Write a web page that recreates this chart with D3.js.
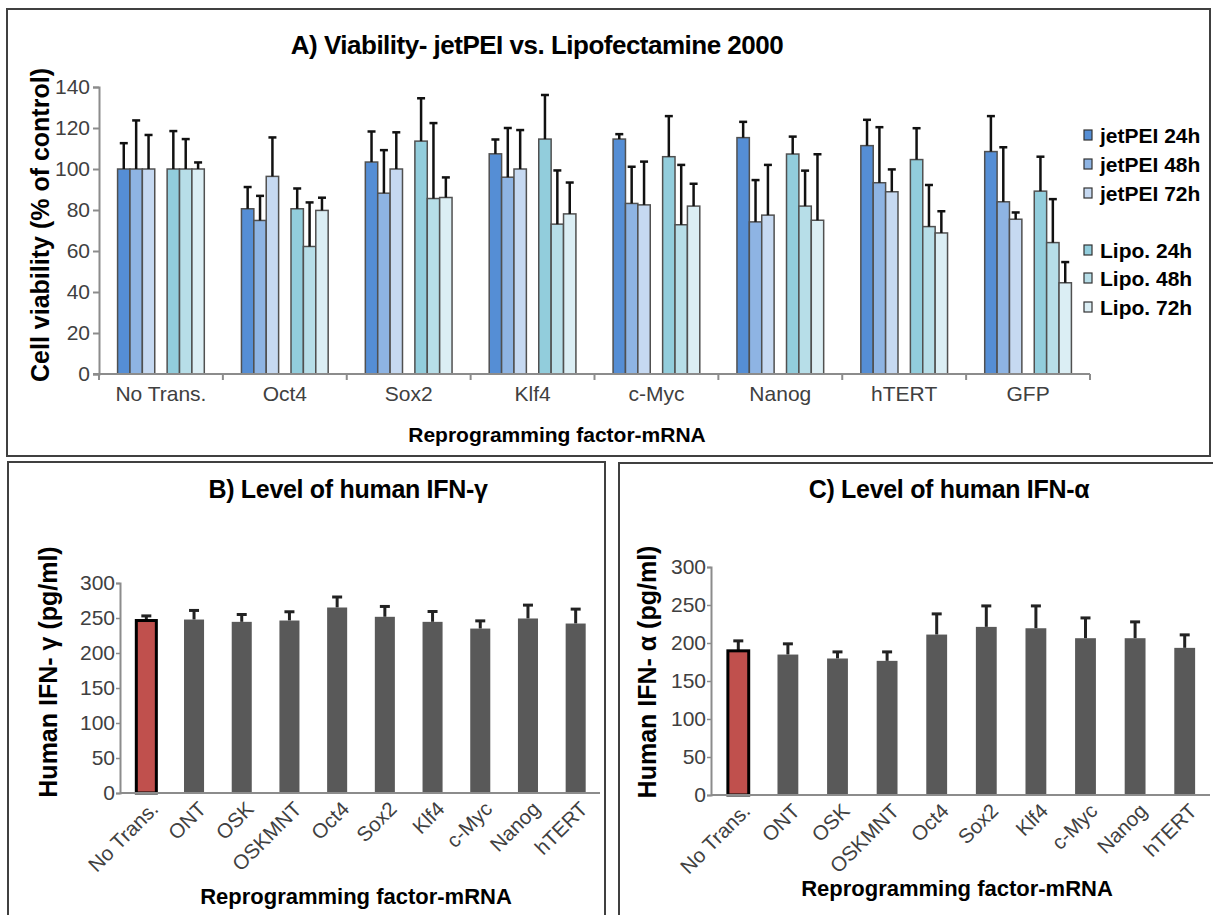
<!DOCTYPE html>
<html>
<head>
<meta charset="utf-8">
<script src="https://cdn.jsdelivr.net/npm/d3@7"></script>
<style>
  body { margin: 0; background: #fff; }
  text { font-family: "Liberation Sans", Arial, sans-serif; }
</style>
</head>
<body>
<script>
// ---- panel A data (cell viability, % of control) ----
var catsA = ["No Trans.", "Oct4", "Sox2", "Klf4", "c-Myc", "Nanog", "hTERT", "GFP"];
var seriesA = ["jetPEI 24h", "jetPEI 48h", "jetPEI 72h", "Lipo. 24h", "Lipo. 48h", "Lipo. 72h"];
var colorsA = ["#558ed5", "#8eb4e3", "#c6d9f1", "#92cddc", "#b7dee8", "#dbeef4"];

var jet24 = [100, 80.6, 103.4, 107.4, 114.6, 115.3, 111.4, 108.5];
var jet48 = [100, 74.9, 88.2, 96, 83.2, 74.2, 93.3, 84];
var jet72 = [100, 96.4, 100, 100, 82.5, 77.5, 88.9, 75.5];
var lipo24 = [100, 80.6, 113.6, 114.6, 106, 107.3, 104.6, 89.2];
var lipo48 = [100, 62.2, 85.6, 73.1, 72.8, 81.9, 71.9, 64.1];
var lipo72 = [100, 79.8, 86.1, 78.1, 81.9, 75, 68.8, 44.5];

var jet24sd = [12.6, 10.6, 14.9, 7, 2.4, 7.7, 12.6, 17.3];
var jet48sd = [23.7, 12, 21, 24, 17.9, 20.4, 27.1, 26.6];
var jet72sd = [16.6, 19, 17.9, 19, 21.1, 24.5, 10.9, 3.3];
var lipo24sd = [18.5, 9.9, 20.9, 21.5, 19.8, 8.5, 15.3, 16.8];
var lipo48sd = [14.6, 21.5, 36.8, 26.2, 29.2, 17.3, 20.3, 21.2];
var lipo72sd = [3.2, 6.2, 9.8, 15.3, 10.9, 32.2, 10.6, 10.1];

var yTicksA = [0, 20, 40, 60, 80, 100, 120, 140];

// ---- panels B and C data (pg/ml) ----
var catsBC = ["No Trans.", "ONT", "OSK", "OSKMNT", "Oct4", "Sox2", "Klf4", "c-Myc", "Nanog", "hTERT"];
var ifnG = [246.4, 247.8, 244.5, 246.4, 265, 251.7, 244.5, 234.9, 249.3, 242.1];
var ifnGsd = [6.6, 13, 10.5, 12.5, 15, 14.8, 14.8, 11, 19.1, 20.6];
var ifnA = [189.7, 184.8, 179.6, 176.5, 211.1, 221.2, 219.4, 206.3, 206.3, 193.6];
var ifnAsd = [13.1, 14.1, 8.7, 11.8, 27.2, 27.6, 29.4, 26.7, 21.5, 17.1];
var yTicksBC = [0, 50, 100, 150, 200, 250, 300];

var valsA = [jet24, jet48, jet72, lipo24, lipo48, lipo72];
var sdsA = [jet24sd, jet48sd, jet72sd, lipo24sd, lipo48sd, lipo72sd];

var svg = d3.select("body").append("svg")
    .attr("width", 1213)
    .attr("height", 915);

var axisGray = "#8c8c8c";
var labelGray = "#404040";

// panel frames
svg.append("rect").attr("x", 7).attr("y", 9).attr("width", 1203).attr("height", 447)
    .attr("fill", "none").attr("stroke", "#404040").attr("stroke-width", 2);
svg.append("rect").attr("x", 8).attr("y", 462).attr("width", 597).attr("height", 470)
    .attr("fill", "none").attr("stroke", "#404040").attr("stroke-width", 2);
svg.append("rect").attr("x", 619).attr("y", 463).attr("width", 610).attr("height", 470)
    .attr("fill", "none").attr("stroke", "#404040").attr("stroke-width", 2);

// ================= Panel A =================
var xA = d3.scaleBand().domain(catsA).range([99, 1090]);
// 7 slots per category, the middle one left empty between the two reagents
var slots = ["s0", "s1", "s2", "gap", "s3", "s4", "s5"];
var xSub = d3.scaleBand().domain(slots).range([0, xA.bandwidth()]).paddingOuter(1.5);
var yA = d3.scaleLinear().domain([0, 140]).range([374, 87]);

var gA = svg.append("g");

gA.append("text").attr("x", 537).attr("y", 54).attr("text-anchor", "middle")
    .attr("font-size", 26).attr("font-weight", "bold").attr("letter-spacing", -0.5)
    .text("A) Viability- jetPEI vs. Lipofectamine 2000");

// bars
var barsA = [];
catsA.forEach(function (c, ci) {
    seriesA.forEach(function (s, si) {
        barsA.push({ cat: c, si: si, v: valsA[si][ci], sd: sdsA[si][ci] });
    });
});
var slotOf = function (si) { return si < 3 ? slots[si] : slots[si + 1]; };

gA.selectAll("rect.bar").data(barsA).enter().append("rect")
    .attr("class", "bar")
    .attr("x", function (d) { return xA(d.cat) + xSub(slotOf(d.si)); })
    .attr("y", function (d) { return yA(d.v); })
    .attr("width", xSub.bandwidth())
    .attr("height", function (d) { return yA(0) - yA(d.v); })
    .attr("fill", function (d) { return colorsA[d.si]; })
    .attr("stroke", "#505050").attr("stroke-width", 1.5);

// error bars
var errA = gA.selectAll("g.err").data(barsA).enter().append("g").attr("class", "err");
errA.append("line")
    .attr("x1", function (d) { return xA(d.cat) + xSub(slotOf(d.si)) + xSub.bandwidth() / 2; })
    .attr("x2", function (d) { return xA(d.cat) + xSub(slotOf(d.si)) + xSub.bandwidth() / 2; })
    .attr("y1", function (d) { return yA(d.v); })
    .attr("y2", function (d) { return yA(d.v + d.sd); })
    .attr("stroke", "#111").attr("stroke-width", 2.5);
errA.append("line")
    .attr("x1", function (d) { return xA(d.cat) + xSub(slotOf(d.si)) + xSub.bandwidth() / 2 - 4; })
    .attr("x2", function (d) { return xA(d.cat) + xSub(slotOf(d.si)) + xSub.bandwidth() / 2 + 4; })
    .attr("y1", function (d) { return yA(d.v + d.sd); })
    .attr("y2", function (d) { return yA(d.v + d.sd); })
    .attr("stroke", "#111").attr("stroke-width", 2.5);

// y axis
var yAxisA = gA.append("g").attr("transform", "translate(99,0)")
    .call(d3.axisLeft(yA).tickValues(yTicksA).tickSize(6).tickPadding(3));
yAxisA.select(".domain").attr("stroke", axisGray).attr("stroke-width", 2);
yAxisA.selectAll(".tick line").attr("stroke", axisGray).attr("stroke-width", 2);
yAxisA.selectAll("text").attr("font-size", 21).attr("fill", labelGray)
    .attr("font-family", "'Liberation Sans', Arial, sans-serif");

// x axis (ticks between categories)
gA.append("line").attr("x1", 93).attr("x2", 1090).attr("y1", 374).attr("y2", 374)
    .attr("stroke", axisGray).attr("stroke-width", 2);
gA.selectAll("line.xt").data(catsA.concat(["end"])).enter().append("line")
    .attr("class", "xt")
    .attr("x1", function (d, i) { return i < catsA.length ? xA(d) : xA.range()[1]; })
    .attr("x2", function (d, i) { return i < catsA.length ? xA(d) : xA.range()[1]; })
    .attr("y1", 374).attr("y2", 380)
    .attr("stroke", axisGray).attr("stroke-width", 2);
gA.selectAll("text.xl").data(catsA).enter().append("text")
    .attr("class", "xl")
    .attr("x", function (d) { return xA(d) + xA.bandwidth() / 2; })
    .attr("y", 401).attr("text-anchor", "middle")
    .attr("font-size", 21).attr("fill", labelGray)
    .text(function (d) { return d; });

gA.append("text").attr("x", 557).attr("y", 442).attr("text-anchor", "middle")
    .attr("font-size", 21).attr("font-weight", "bold")
    .text("Reprogramming factor-mRNA");

gA.append("text").attr("transform", "translate(40,225) rotate(-90)")
    .attr("text-anchor", "middle").attr("dominant-baseline", "central")
    .attr("font-size", 25).attr("font-weight", "bold")
    .text("Cell viability (% of control)");

// legend
var legRows = [135, 164, 193, 250, 278, 307];
var leg = gA.selectAll("g.leg").data(seriesA).enter().append("g").attr("class", "leg")
    .attr("transform", function (d, i) { return "translate(1084," + legRows[i] + ")"; });
leg.append("rect").attr("x", 0).attr("y", -5).attr("width", 8).attr("height", 10)
    .attr("fill", function (d, i) { return colorsA[i]; })
    .attr("stroke", "#333").attr("stroke-width", 1.2);
leg.append("text").attr("x", 16).attr("y", 0).attr("dominant-baseline", "central")
    .attr("font-size", 21).attr("font-weight", "bold")
    .text(function (d) { return d; });

// ================= Panels B and C =================
function ifnPanel(opt) {
    var g = svg.append("g");
    var x = d3.scaleBand().domain(catsBC).range(opt.xr).paddingInner(0.58).paddingOuter(0.3);
    var y = d3.scaleLinear().domain([0, 300]).range(opt.yr);
    var rows = catsBC.map(function (c, i) { return { cat: c, v: opt.vals[i], sd: opt.sds[i], i: i }; });

    g.append("text").attr("x", opt.titleX).attr("y", 498).attr("text-anchor", "middle")
        .attr("font-size", 25).attr("font-weight", "bold").attr("letter-spacing", -0.3)
        .text(opt.title);

    var yAx = g.append("g").attr("transform", "translate(" + opt.axisX + ",0)")
        .call(d3.axisLeft(y).tickValues(yTicksBC).tickSize(4).tickPadding(1));
    yAx.select(".domain").attr("stroke", axisGray).attr("stroke-width", 2);
    yAx.selectAll(".tick line").attr("stroke", axisGray).attr("stroke-width", 1.5);
    yAx.selectAll("text").attr("font-size", 21).attr("fill", labelGray)
        .attr("font-family", "'Liberation Sans', Arial, sans-serif");

    // error bars
    g.selectAll("line.ev").data(rows).enter().append("line").attr("class", "ev")
        .attr("x1", function (d) { return x(d.cat) + x.bandwidth() / 2; })
        .attr("x2", function (d) { return x(d.cat) + x.bandwidth() / 2; })
        .attr("y1", function (d) { return y(d.v); })
        .attr("y2", function (d) { return y(d.v + d.sd); })
        .attr("stroke", "#222").attr("stroke-width", 3);
    g.selectAll("line.ec").data(rows).enter().append("line").attr("class", "ec")
        .attr("x1", function (d) { return x(d.cat) + x.bandwidth() / 2 - 5; })
        .attr("x2", function (d) { return x(d.cat) + x.bandwidth() / 2 + 5; })
        .attr("y1", function (d) { return y(d.v + d.sd); })
        .attr("y2", function (d) { return y(d.v + d.sd); })
        .attr("stroke", "#222").attr("stroke-width", 3);

    g.selectAll("rect.b").data(rows).enter().append("rect").attr("class", "b")
        .attr("x", function (d) { return x(d.cat); })
        .attr("y", function (d) { return y(d.v); })
        .attr("width", x.bandwidth())
        .attr("height", function (d) { return y(0) - y(d.v); })
        .attr("fill", function (d) { return d.i === 0 ? "#c0504d" : "#595959"; })
        .attr("stroke", function (d) { return d.i === 0 ? "#000" : "none"; })
        .attr("stroke-width", 3);

    g.append("line").attr("x1", opt.axisX).attr("x2", opt.xEnd)
        .attr("y1", y(0)).attr("y2", y(0))
        .attr("stroke", axisGray).attr("stroke-width", 2);

    g.selectAll("text.xl").data(rows).enter().append("text").attr("class", "xl")
        .attr("transform", function (d) {
            return "translate(" + (x(d.cat) + x.bandwidth() / 2 + 8) + "," + (y(0) + 12) + ") rotate(-45)";
        })
        .attr("text-anchor", "end").attr("dominant-baseline", "central")
        .attr("font-size", 20.5).attr("fill", labelGray)
        .text(function (d) { return d.cat; });

    g.append("text").attr("x", opt.titleX + 8).attr("y", opt.xTitleY).attr("text-anchor", "middle")
        .attr("font-size", 22).attr("font-weight", "bold").text("Reprogramming factor-mRNA");

    g.append("text").attr("transform", "translate(" + opt.yLabX + ",672) rotate(-90)")
        .attr("text-anchor", "middle").attr("dominant-baseline", "central")
        .attr("font-size", 25).attr("font-weight", "bold").text(opt.yLab);
}

ifnPanel({
    vals: ifnG, sds: ifnGsd, xr: [122, 600], yr: [793, 583], axisX: 120, xEnd: 600,
    title: "B) Level of human IFN-\u03b3", titleX: 348, xTitleY: 904,
    yLab: "Human IFN- \u03b3 (pg/ml)", yLabX: 48
});
ifnPanel({
    vals: ifnA, sds: ifnAsd, xr: [713, 1210], yr: [795, 567], axisX: 711, xEnd: 1210,
    title: "C) Level of human IFN-\u03b1", titleX: 949, xTitleY: 896,
    yLab: "Human IFN- \u03b1 (pg/ml)", yLabX: 647
});
</script>
</body>
</html>
